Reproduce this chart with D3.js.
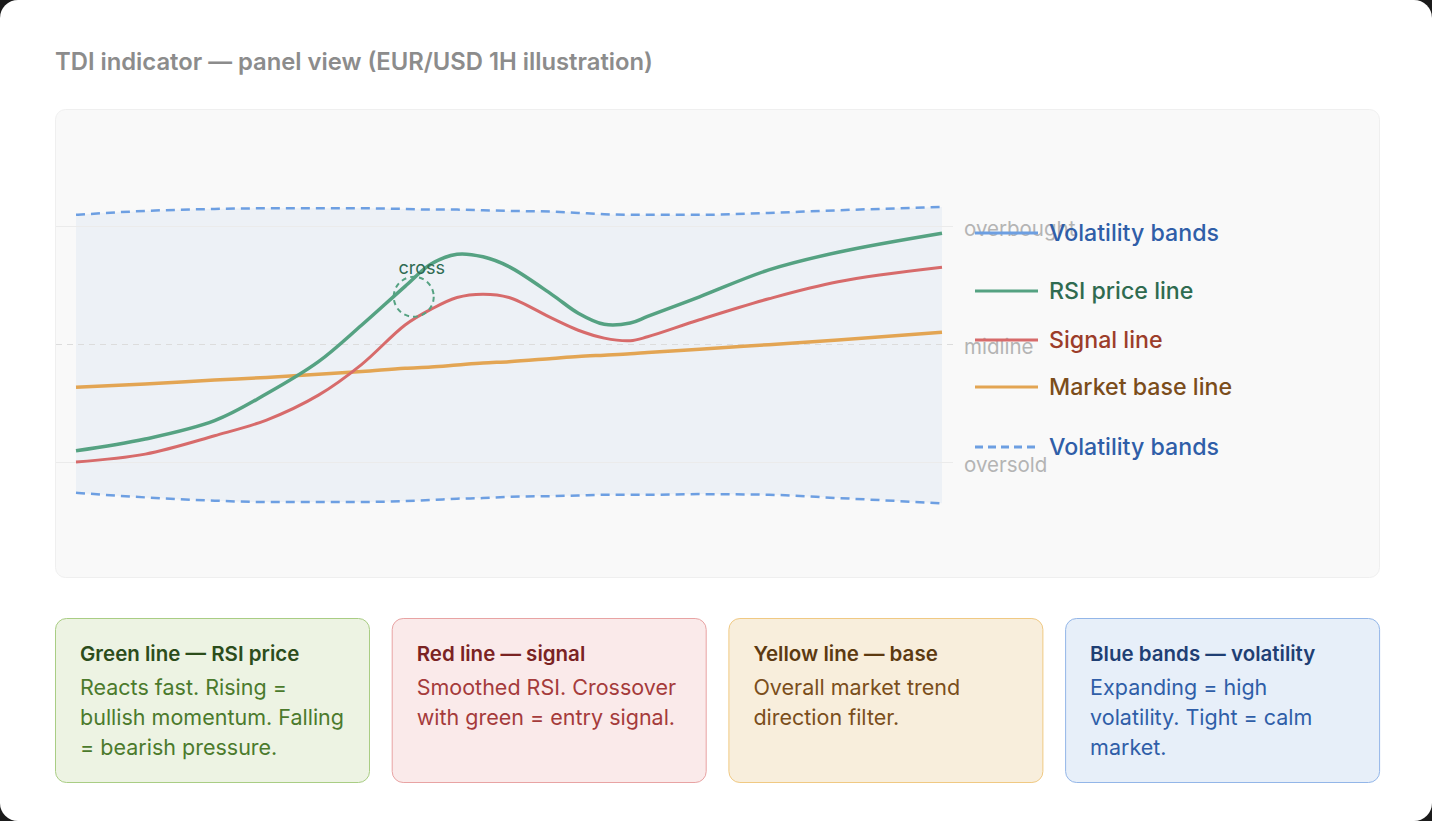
<!DOCTYPE html>
<html>
<head>
<meta charset="utf-8">
<script src="https://cdn.jsdelivr.net/npm/d3@7"></script>
<style>
html, body { margin: 0; padding: 0; background: #1b1b1b; }
#frame { width: 1432px; height: 821px; background: #fff; border-radius: 18px; overflow: hidden; }
svg text { font-family: Inter, "Noto Sans", sans-serif; }
</style>
</head>
<body>
<div id="frame"><svg id="chart" width="1432" height="821"></svg></div>
<script>
// bar index along the panel (0..100)
var bars        = [0, 8, 16, 22, 28, 33, 38, 41, 44, 47, 50, 55, 58, 61, 64, 66, 72, 80, 88, 100];
var rsiPrice    = [33.7, 35.5, 38.3, 42.4, 47.3, 52.9, 58.8, 62.2, 63.7, 63.3, 61.8, 57.5, 54.7, 53.0, 53.2, 54.2, 57.2, 61.3, 64.0, 66.9];
var signalLine  = [32.0, 33.2, 36.0, 38.4, 42.2, 46.9, 52.9, 55.3, 57.1, 57.6, 57.1, 53.9, 52.1, 50.9, 50.5, 51.1, 53.7, 56.9, 59.5, 61.7];
var baseLine    = [43.4, 43.9, 44.5, 44.9, 45.4, 45.8, 46.3, 46.5, 46.8, 47.1, 47.3, 47.8, 48.1, 48.3, 48.5, 48.7, 49.2, 49.9, 50.6, 51.8];
var upperBand   = [69.7, 70.3, 70.6, 70.7, 70.7, 70.7, 70.6, 70.5, 70.5, 70.4, 70.3, 70.2, 70.0, 69.8, 69.7, 69.7, 69.7, 70.0, 70.4, 70.9];
var lowerBand   = [27.3, 26.6, 26.1, 25.9, 25.9, 25.9, 26.05, 26.2, 26.4, 26.5, 26.7, 26.8, 26.9, 27.0, 27.0, 27.0, 27.1, 27.0, 26.5, 25.7];

var levelValues = [68, 50, 32];
var levelLabels = ["overbought", "midline", "oversold"];
var crossAt     = [39, 57.2];

var legendLabels = ["Volatility bands", "RSI price line", "Signal line", "Market base line", "Volatility bands"];

var cardTitles = ["Green line \u2014 RSI price", "Red line \u2014 signal", "Yellow line \u2014 base", "Blue bands \u2014 volatility"];
var cardLines = [
    ["Reacts fast. Rising =", "bullish momentum. Falling", "= bearish pressure."],
    ["Smoothed RSI. Crossover", "with green = entry signal."],
    ["Overall market trend", "direction filter."],
    ["Expanding = high", "volatility. Tight = calm", "market."]
];

var COLORS = {
    green: "#55a282", red: "#d76b6b", orange: "#e3a553", blue: "#6d9fe2"
};

var svg = d3.select("#chart");

svg.append("text")
    .attr("x", 55).attr("y", 70)
    .attr("fill", "#8c8c8c")
    .attr("font-size", 23.8)
    .attr("font-weight", 600)
    .text("TDI indicator \u2014 panel view (EUR/USD 1H illustration)");

// panel
svg.append("rect")
    .attr("x", 55.5).attr("y", 109.5)
    .attr("width", 1324).attr("height", 468)
    .attr("rx", 10)
    .attr("fill", "#f9f9f9")
    .attr("stroke", "#efefef");

var x = d3.scaleLinear().domain([0, 100]).range([76, 942]);
var y = d3.scaleLinear().domain([32, 68]).range([462, 226]);

function pts(values) {
    return bars.map(function(b, i) { return [b, values[i]]; });
}

var smooth = d3.curveCatmullRom.alpha(0.5);
var flat = d3.curveMonotoneX;

// band fill
var bandArea = d3.area()
    .x(function(d) { return x(d[0]); })
    .y0(function(d) { return y(d[2]); })
    .y1(function(d) { return y(d[1]); })
    .curve(flat);

svg.append("path")
    .datum(bars.map(function(b, i) { return [b, upperBand[i], lowerBand[i]]; }))
    .attr("d", bandArea)
    .attr("fill", "#5b8dd9")
    .attr("fill-opacity", 0.07);

// level lines
var levels = svg.append("g");
levelValues.forEach(function(v, i) {
    levels.append("line")
        .attr("x1", 56).attr("x2", 953)
        .attr("y1", y(v) + 0.5).attr("y2", y(v) + 0.5)
        .attr("stroke", i === 1 ? "#dcdcdc" : "#ebebeb")
        .attr("stroke-width", 1)
        .attr("stroke-dasharray", i === 1 ? "6 5" : null);
    levels.append("text")
        .attr("x", 964).attr("y", y(v) + 10)
        .attr("fill", "#b4b4b4")
        .attr("font-size", 20.5)
        .text(levelLabels[i]);
});

function drawLine(values, color, width, curve, dash) {
    var line = d3.line()
        .x(function(d) { return x(d[0]); })
        .y(function(d) { return y(d[1]); })
        .curve(curve);
    svg.append("path")
        .datum(pts(values))
        .attr("d", line)
        .attr("fill", "none")
        .attr("stroke", color)
        .attr("stroke-width", width)
        .attr("stroke-dasharray", dash || null)
        .attr("stroke-linecap", "butt");
}

drawLine(upperBand, COLORS.blue, 2.5, flat, "9 6");
drawLine(lowerBand, COLORS.blue, 2.5, flat, "9 6");
drawLine(baseLine, COLORS.orange, 3.5, flat);
drawLine(signalLine, COLORS.red, 3, smooth);
drawLine(rsiPrice, COLORS.green, 3.5, smooth);

// crossover marker
svg.append("circle")
    .attr("cx", x(crossAt[0])).attr("cy", y(crossAt[1]))
    .attr("r", 20)
    .attr("fill", "none")
    .attr("stroke", COLORS.green)
    .attr("stroke-width", 2)
    .attr("stroke-dasharray", "5 4");
svg.append("text")
    .attr("x", x(crossAt[0]) + 8).attr("y", y(crossAt[1]) - 23)
    .attr("text-anchor", "middle")
    .attr("fill", "#2f6b52")
    .attr("font-size", 18)
    .text("cross");

// legend
var legendY = [233, 291, 340, 387, 447];
var legendStroke = [COLORS.blue, COLORS.green, COLORS.red, COLORS.orange, COLORS.blue];
var legendText = ["#2f5ea8", "#2f6b50", "#9c3d2a", "#7b4d1b", "#2f5ea8"];
var legend = svg.append("g");
legendLabels.forEach(function(label, i) {
    legend.append("line")
        .attr("x1", 975).attr("x2", 1038)
        .attr("y1", legendY[i]).attr("y2", legendY[i])
        .attr("stroke", legendStroke[i])
        .attr("stroke-width", 3)
        .attr("stroke-dasharray", i === 4 ? "8 5" : null);
    legend.append("text")
        .attr("x", 1049).attr("y", legendY[i])
        .attr("dy", "0.36em")
        .attr("fill", legendText[i])
        .attr("font-size", 23.2)
        .attr("font-weight", 500)
        .text(label);
});

// explanation cards
var cardStyle = [
    { bg: "#edf3e3", border: "#a9cd84", title: "#2c4d1b", body: "#4b7a2c" },
    { bg: "#faeaea", border: "#e8a3a3", title: "#7a2323", body: "#a53b3b" },
    { bg: "#f8eedc", border: "#f0c983", title: "#5d3a11", body: "#7b4e1b" },
    { bg: "#e7eff9", border: "#93b6e8", title: "#1f3f74", body: "#2f5ea8" }
];
var cards = svg.selectAll("g.card")
    .data(cardTitles)
    .enter().append("g")
    .attr("class", "card")
    .attr("transform", function(d, i) { return "translate(" + (55.5 + i * 336.7) + ",618.5)"; });

cards.append("rect")
    .attr("width", 314).attr("height", 164)
    .attr("rx", 11)
    .attr("fill", function(d, i) { return cardStyle[i].bg; })
    .attr("stroke", function(d, i) { return cardStyle[i].border; });

cards.append("text")
    .attr("x", 24.5).attr("y", 42)
    .attr("fill", function(d, i) { return cardStyle[i].title; })
    .attr("font-size", 20.5)
    .attr("font-weight", 600)
    .text(function(d) { return d; });

cards.each(function(d, i) {
    var t = d3.select(this).append("text")
        .attr("fill", cardStyle[i].body)
        .attr("font-size", 21.5);
    cardLines[i].forEach(function(s, j) {
        t.append("tspan")
            .attr("x", 24.5)
            .attr("y", 76 + j * 30)
            .text(s);
    });
});
</script>
</body>
</html>
